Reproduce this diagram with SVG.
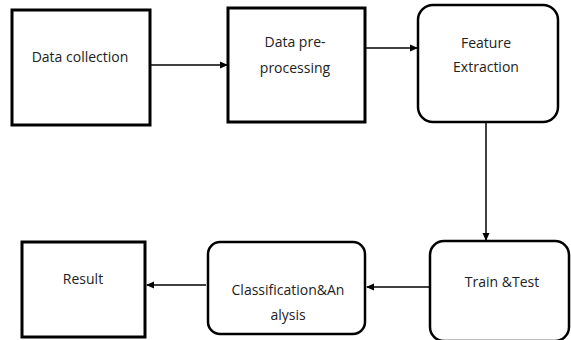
<svg xmlns="http://www.w3.org/2000/svg" width="571" height="340" viewBox="0 0 571 340">
<style>
.sq{fill:#fff;stroke:#000;stroke-width:3}
.rd{fill:#fff;stroke:#000;stroke-width:2.5}
.t{font-family:"Open Sans","Noto Sans",sans-serif;font-size:14px;fill:#222;text-anchor:middle}
.c{stroke:#000;stroke-width:1.5;fill:none}
</style>
<defs>
<marker id="ah" markerWidth="8" markerHeight="8" refX="7" refY="4" orient="auto" markerUnits="userSpaceOnUse">
<path d="M0,0.5 L8,4 L0,7.5 Z" fill="#000"/>
</marker>
</defs>
<rect width="571" height="340" fill="#fff"/>
<g id="n1"><rect class="sq" x="12" y="10" width="138" height="115"/><text class="t" x="80" y="62">Data collection</text></g>
<g id="n2"><rect class="sq" x="228" y="8" width="137" height="114"/><text class="t" x="295" y="47">Data pre-</text><text class="t" x="295" y="73">processing</text></g>
<g id="n3"><rect class="rd" x="418" y="5" width="140" height="117" rx="15"/><text class="t" x="486" y="48">Feature</text><text class="t" x="486" y="72">Extraction</text></g>
<g id="n4"><rect class="rd" x="430" y="241" width="139" height="100" rx="14"/><text class="t" x="502" y="287">Train &amp;Test</text></g>
<g id="n5"><rect class="rd" x="208" y="242" width="157" height="92" rx="12"/><text class="t" x="288" y="295">Classification&amp;An</text><text class="t" x="288" y="320">alysis</text></g>
<g id="n6"><rect class="sq" x="22" y="242" width="123" height="95"/><text class="t" x="83" y="284">Result</text></g>
<g id="connectors">
<line class="c" x1="151" y1="65" x2="227" y2="65" marker-end="url(#ah)"/>
<line class="c" x1="366" y1="48" x2="417" y2="48" marker-end="url(#ah)"/>
<line class="c" x1="486" y1="123" x2="486" y2="240" marker-end="url(#ah)"/>
<line class="c" x1="429" y1="287" x2="367" y2="287" marker-end="url(#ah)"/>
<line class="c" x1="206" y1="285" x2="147" y2="285" marker-end="url(#ah)"/>
</g>
</svg>
